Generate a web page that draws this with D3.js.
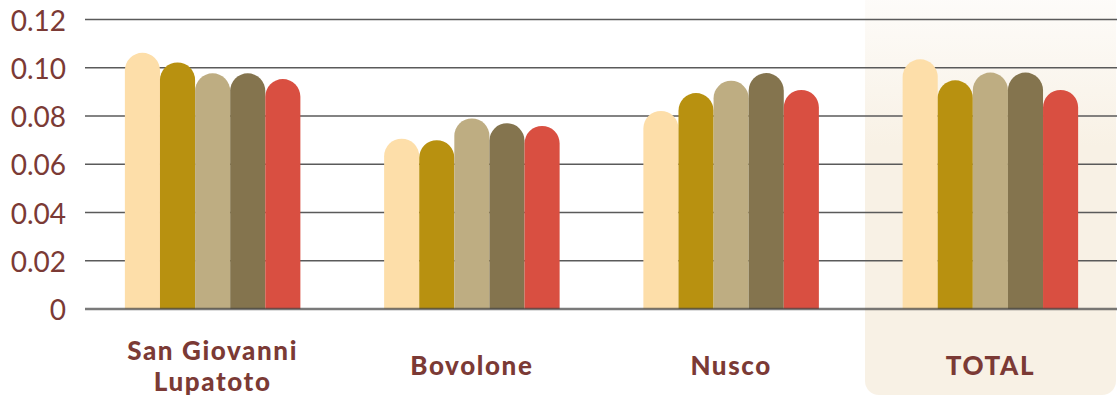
<!DOCTYPE html>
<html>
<head>
<meta charset="utf-8">
<script src="https://cdn.jsdelivr.net/npm/d3@7"></script>
<style>
  body { margin: 0; background: #fff; }
  svg { display: block; }
</style>
</head>
<body>
<div id="viz"></div>
<script>
// data
let places = ['San Giovanni Lupatoto', 'Bovolone', 'Nusco', 'TOTAL'];
let series = ['s1', 's2', 's3', 's4', 's5'];
let s1 = [0.1062, 0.0706, 0.0821, 0.1035];
let s2 = [0.1022, 0.0700, 0.0895, 0.0948];
let s3 = [0.0977, 0.0790, 0.0946, 0.0980];
let s4 = [0.0977, 0.0770, 0.0978, 0.0980];
let s5 = [0.0953, 0.0759, 0.0908, 0.0908];
let y_ticks = [0, 0.02, 0.04, 0.06, 0.08, 0.10, 0.12];
let tick_labels = ['0', '0.02', '0.04', '0.06', '0.08', '0.10', '0.12'];
let colors = ['#FDDEA9', '#B89110', '#BEAD82', '#84744E', '#D94F41'];

let all_vals = [s1, s2, s3, s4, s5];
let text_col = '#7B3A35';

window.onload = function () {
    draw()
}

function draw() {
    let width = 1117, height = 396;

    let svg = d3.select('#viz').append('svg')
        .attr('width', width)
        .attr('height', height);

    let x0 = d3.scaleBand().domain(places).range([83, 1120]);
    let x1 = d3.scaleBand().domain(series).range([-87.75, 87.75]);
    let y = d3.scaleLinear().domain([0, 0.12]).range([309, 19.5]);

    // highlight panel behind TOTAL
    let defs = svg.append('defs');
    let grad = defs.append('linearGradient')
        .attr('id', 'panel_grad')
        .attr('x1', 0).attr('y1', 0).attr('x2', 0).attr('y2', 1);
    grad.append('stop').attr('offset', '0%').attr('stop-color', '#fefdfc');
    grad.append('stop').attr('offset', '40%').attr('stop-color', '#f8f1e5');
    grad.append('stop').attr('offset', '100%').attr('stop-color', '#f8f1e5');

    svg.append('rect')
        .attr('x', 865)
        .attr('y', -20)
        .attr('width', 251)
        .attr('height', 415)
        .attr('rx', 14)
        .attr('fill', 'url(#panel_grad)');

    // grid lines
    svg.append('g')
        .selectAll('line')
        .data(y_ticks.filter(d => d > 0))
        .join('line')
        .attr('x1', 85)
        .attr('x2', width)
        .attr('y1', d => y(d))
        .attr('y2', d => y(d))
        .attr('stroke', '#5a5a5a')
        .attr('stroke-width', 1.4);

    // y labels
    svg.append('g')
        .selectAll('text')
        .data(y_ticks)
        .join('text')
        .attr('x', 66)
        .attr('y', d => y(d) + 4)
        .attr('text-anchor', 'end')
        .attr('dominant-baseline', 'middle')
        .attr('fill', text_col)
        .style('font-family', 'Lato, sans-serif')
        .style('font-size', '28px')
        .text((d, i) => tick_labels[i]);

    // bars with round tops
    let bar_data = [];
    places.forEach(function (p, i) {
        series.forEach(function (s, j) {
            bar_data.push({place: p, s: s, value: all_vals[j][i], col: colors[j]});
        });
    });

    svg.append('g')
        .selectAll('path')
        .data(bar_data)
        .join('path')
        .attr('fill', d => d.col)
        .attr('d', function (d) {
            let left = x0(d.place) + x0.bandwidth() / 2 + x1(d.s);
            let w = x1.bandwidth();
            let r = w / 2;
            let top = y(d.value);
            let bottom = y(0);
            return 'M' + left + ',' + bottom +
                'L' + left + ',' + (top + r) +
                'A' + r + ',' + r + ' 0 0 1 ' + (left + w) + ',' + (top + r) +
                'L' + (left + w) + ',' + bottom + 'Z';
        });

    // baseline over the bars
    svg.append('line')
        .attr('x1', 85)
        .attr('x2', width)
        .attr('y1', y(0))
        .attr('y2', y(0))
        .attr('stroke', 'rgba(70,70,70,0.72)')
        .attr('stroke-width', 2.5);

    // category labels, one text per line
    let label_lines = [];
    places.forEach(function (p) {
        let cx = x0(p) + x0.bandwidth() / 2;
        if (p === 'San Giovanni Lupatoto') {
            label_lines.push({x: cx, y: 360, t: 'San Giovanni'});
            label_lines.push({x: cx, y: 391, t: 'Lupatoto'});
        } else {
            label_lines.push({x: cx, y: 375, t: p});
        }
    });

    svg.append('g')
        .selectAll('text')
        .data(label_lines)
        .join('text')
        .attr('x', d => d.x)
        .attr('y', d => d.y)
        .attr('text-anchor', 'middle')
        .attr('fill', text_col)
        .style('font-family', 'Lato, sans-serif')
        .style('font-weight', '900')
        .style('font-size', '26px')
        .style('letter-spacing', '1.6px')
        .text(d => d.t);
}
</script>
</body>
</html>
